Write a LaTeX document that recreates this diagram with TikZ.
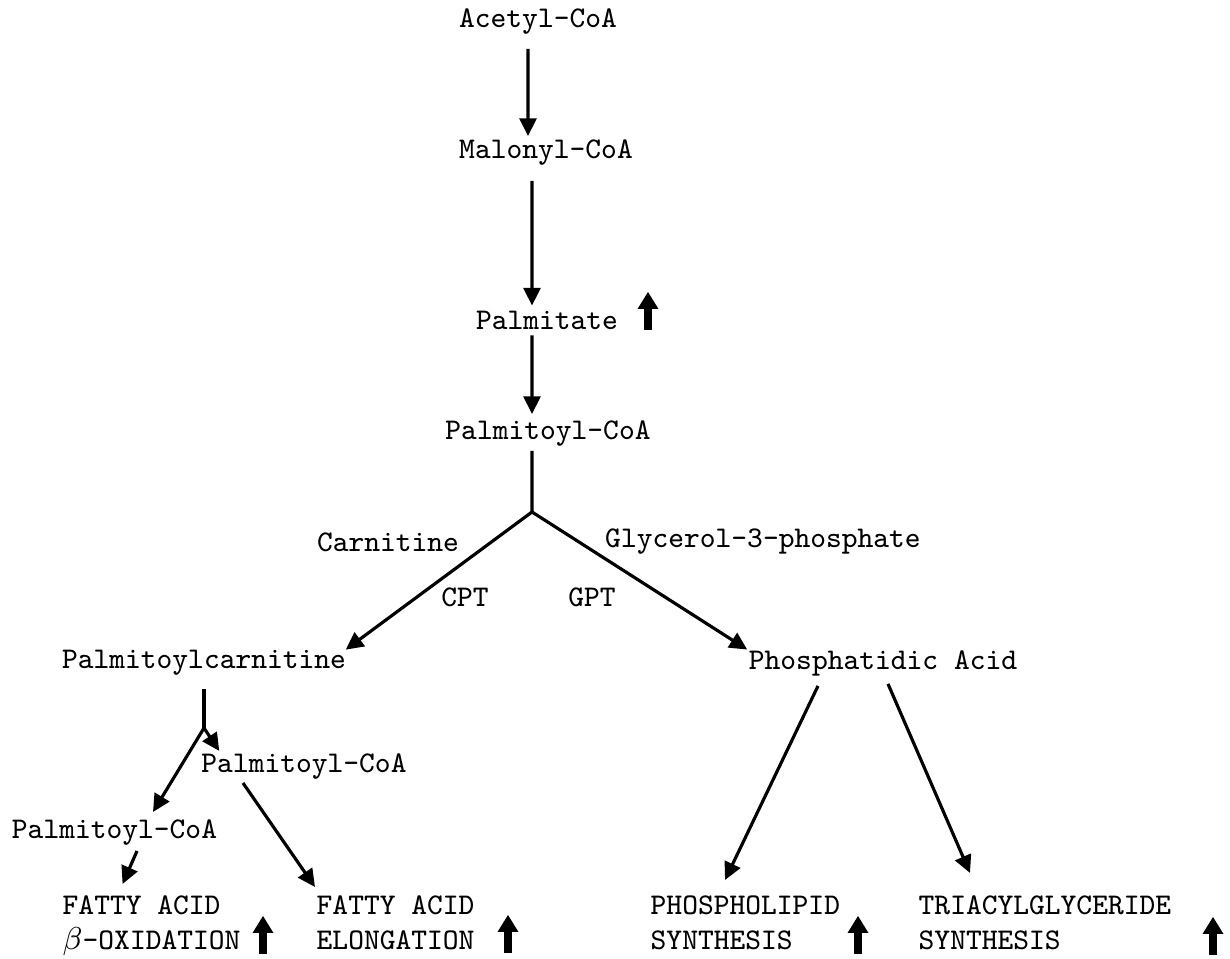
\documentclass[tikz,border=0pt]{standalone}
\usetikzlibrary{arrows.meta}

\begin{document}
\begin{tikzpicture}[
		txt/.style={inner sep=0pt, font=\fontsize{8.55}{10}\ttfamily},
		twoline/.style={txt, anchor=north west, align=left},
		link/.style={line width=0.9pt},
		flow/.style={link, -{Triangle[length=5pt,width=4.8pt]}},
		upmark/.pic={
			\fill (-0.042,0) rectangle (0.042,0.24);
			\fill (-0.105,0.21) -- (0,0.38) -- (0.105,0.21) -- cycle;
		}]
			\useasboundingbox (0,0) rectangle (12.3,9.59);
			% main chain
			\node[txt] (acetyl) at (5.38,9.37) {Acetyl-CoA};
			\node[txt] (malonyl) at (5.46,8.06) {Malonyl-CoA};
			\node[txt] (palmitate) at (5.47,6.39) {Palmitate};
			\node[txt] (pcoa) at (5.48,5.25) {Palmitoyl-CoA};
			\coordinate (j1) at (5.32,4.47);
			\node[txt] (carnitine) at (3.88,4.17) {Carnitine};
			\node[txt] (glycerol) at (7.63,4.17) {Glycerol-3-phosphate};
			\node[txt] (cpt) at (4.65,3.62) {CPT};
			\node[txt] (gpt) at (5.92,3.62) {GPT};
			\node[txt] (pcarn) at (2.04,2.96) {Palmitoylcarnitine};
			\node[txt] (pacid) at (8.83,2.96) {Phosphatidic Acid};
			\coordinate (j2) at (2.04,2.31);
			\node[txt] (pcoaR) at (3.04,1.92) {Palmitoyl-CoA};
			\node[txt] (pcoaL) at (1.145,1.26) {Palmitoyl-CoA};
			% end products
			\node[twoline] (faox) at (0.62,0.64) {FATTY ACID\\$\beta$-OXIDATION};
			\node[twoline] (faelong) at (3.16,0.64) {FATTY ACID\\ELONGATION};
			\node[twoline] (plsyn) at (6.50,0.64) {PHOSPHOLIPID\\SYNTHESIS};
			\node[twoline] (tgsyn) at (9.18,0.64) {TRIACYLGLYCERIDE\\SYNTHESIS};
			% connectors
			\draw[flow] ([xshift=-1mm,yshift=-1.35mm]acetyl.south) -- ([xshift=-1.8mm,yshift=0.35mm]malonyl.north);
			\draw[flow] ([xshift=-1.4mm,yshift=-1.45mm]malonyl.south) -- ([xshift=-1.5mm,yshift=0.45mm]palmitate.north);
			\draw[flow] ([xshift=-1.5mm,yshift=-0.55mm]palmitate.south) -- ([xshift=-1.6mm,yshift=0.65mm]pcoa.north);
			\draw[link] ([xshift=-1.6mm,yshift=-0.35mm]pcoa.south) -- (j1);
			\draw[flow] (j1) -- ([xshift=-0.1mm]pcarn.north east);
			\draw[flow] (j1) -- ([xshift=-0.1mm]pacid.north west);
			\draw[link] ([yshift=-1.25mm]pcarn.south) -- (j2);
			\draw[flow] (j2) -- ([xshift=1.85mm,yshift=0.25mm]pcoaR.north west);
			\draw[flow] (j2) -- ([xshift=3.85mm,yshift=0.75mm]pcoaL.north);
			\draw[flow] ([xshift=2.25mm,yshift=-0.45mm]pcoaL.south) -- ([xshift=-2.9mm,yshift=1.1mm]faox.north);
			\draw[flow] ([xshift=-6.1mm,yshift=-0.25mm]pcoaR.south) -- ([xshift=-0.1mm,yshift=0.8mm]faelong.north west);
			\draw[flow] ([xshift=-6.5mm,yshift=-0.95mm]pacid.south) -- ([xshift=7.5mm,yshift=1.5mm]plsyn.north west);
			\draw[flow] ([xshift=0.5mm,yshift=-0.75mm]pacid.south) -- ([xshift=5.2mm,yshift=2.2mm]tgsyn.north west);
			% increase marks
			\pic at (6.48,6.29) {upmark};
			\pic at (2.63,0.05) {upmark};
			\pic at (5.08,0.06) {upmark};
			\pic at (8.58,0.05) {upmark};
			\pic at (12.13,0.04) {upmark};
		\end{tikzpicture}
\end{document}
